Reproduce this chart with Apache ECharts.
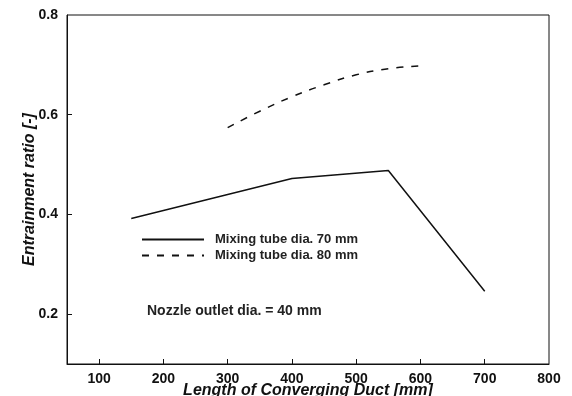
<!DOCTYPE html>
<html><head><meta charset="utf-8">
<script src="https://cdn.jsdelivr.net/npm/echarts@6/dist/echarts.min.js"></script>
<style>html,body{margin:0;padding:0;background:#fff}#c{width:572px;height:396px}</style>
</head><body><div id="c"></div>
<script>
const xTicks = [100, 200, 300, 400, 500, 600, 700, 800];
const yTicks = [0.2, 0.4, 0.6, 0.8];
const seriesNames = ['Mixing tube dia. 70 mm', 'Mixing tube dia. 80 mm'];
const x70 = [150, 200, 300, 400, 550, 700];
const y70 = [0.392, 0.408, 0.44, 0.472, 0.488, 0.246];
const x80 = [300, 350, 400, 450, 500, 550, 600];
const y80 = [0.574, 0.607, 0.636, 0.66, 0.68, 0.692, 0.698];
const note = 'Nozzle outlet dia. = 40 mm';

const font = '"Liberation Sans", Arial, sans-serif';
const chart = echarts.init(document.getElementById('c'), null, {renderer: 'canvas'});
chart.setOption({
  animation: false,
  backgroundColor: '#fff',
  grid: {left: 67, right: 23, top: 15, bottom: 32, show: true, borderColor: '#111', borderWidth: 1,
    outerBoundsMode: 'none', containLabel: false},
  legend: {
    data: seriesNames, orient: 'vertical', left: 136, top: 228, itemWidth: 62, itemHeight: 10, itemGap: 3,
    itemStyle: {opacity: 0},
    textStyle: {fontFamily: font, fontSize: 13, fontWeight: 'bold', color: '#222', padding: [0, 0, 0, 6]}
  },
  xAxis: {
    type: 'value', min: 50, max: 800,
    name: 'Length of Converging Duct [mm]', nameLocation: 'middle', nameGap: 19, nameMoveOverlap: false,
    nameTextStyle: {fontFamily: font, fontSize: 16, fontStyle: 'italic', fontWeight: 'bold', color: '#111'},
    axisLine: {lineStyle: {color: '#111', width: 1}},
    axisTick: {inside: true, length: 5, customValues: xTicks.slice(0, 7), lineStyle: {color: '#111'}},
    axisLabel: {customValues: xTicks, margin: 8, fontFamily: font, fontSize: 14, fontWeight: 'bold', color: '#111'},
    splitLine: {show: false}
  },
  yAxis: {
    type: 'value', min: 0.1, max: 0.8,
    name: 'Entrainment ratio [-]', nameLocation: 'middle', nameGap: 29, nameMoveOverlap: false,
    nameTextStyle: {fontFamily: font, fontSize: 16, fontStyle: 'italic', fontWeight: 'bold', color: '#111'},
    axisLine: {lineStyle: {color: '#111', width: 1}},
    axisTick: {inside: true, length: 5, customValues: yTicks.slice(0, 3), lineStyle: {color: '#111'}},
    axisLabel: {customValues: yTicks, margin: 9, fontFamily: font, fontSize: 14, fontWeight: 'bold', color: '#111',
      formatter: v => v.toFixed(1)},
    splitLine: {show: false}
  },
  graphic: [{
    type: 'text', left: 147, top: 304,
    style: {text: note, fontFamily: font, fontSize: 14, fontWeight: 'bold', fill: '#222'}
  }],
  series: [
    {name: seriesNames[0], type: 'line', symbol: 'none', data: x70.map((x, i) => [x, y70[i]]),
     lineStyle: {color: '#111', width: 1.5, type: 'solid'}, itemStyle: {color: '#111'}},
    {name: seriesNames[1], type: 'line', symbol: 'none', smooth: true, data: x80.map((x, i) => [x, y80[i]]),
     lineStyle: {color: '#111', width: 1.5, type: [7, 8]}, itemStyle: {color: '#111'}}
  ]
});
</script></body></html>
